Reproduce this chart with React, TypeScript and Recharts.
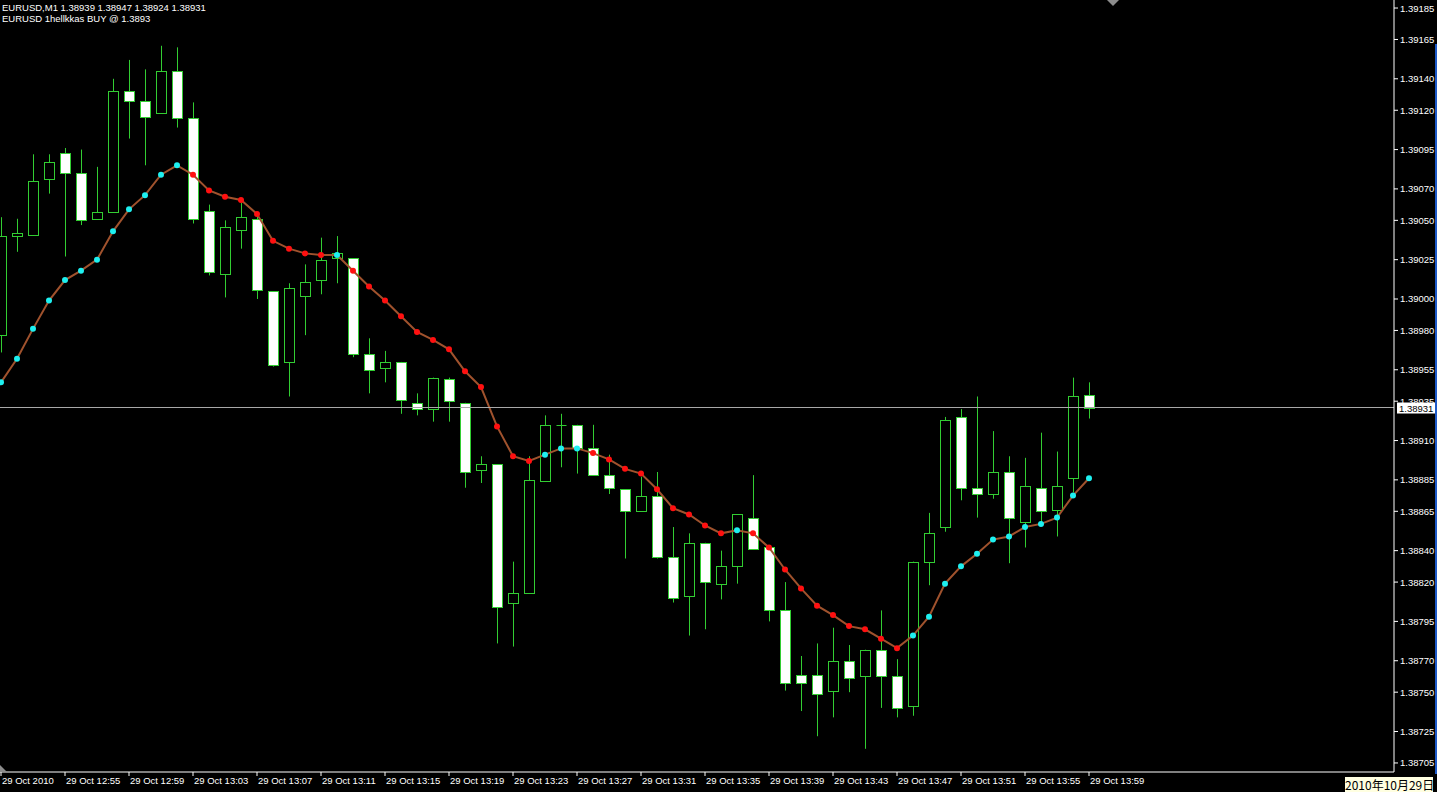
import React from "react";
import { ComposedChart, Bar, Line, XAxis, YAxis, ReferenceLine } from "recharts";

// EURUSD M1, 29 Oct 2010, 12:51 .. 13:59
const opens = [
  1.38977, 1.3904, 1.39041, 1.39076, 1.39093, 1.3908, 1.39051, 1.39055, 1.39132, 1.39126,
  1.39118, 1.39145, 1.39115, 1.39056, 1.39016, 1.39044, 1.39051, 1.39005, 1.3896, 1.39002,
  1.39012, 1.39026, 1.39026, 1.38965, 1.38956, 1.3896, 1.38934, 1.3893, 1.38949, 1.38934,
  1.38891, 1.38895, 1.38807, 1.38813, 1.38884, 1.3892, 1.3892, 1.38905, 1.38888, 1.38879,
  1.38865, 1.38875, 1.38836, 1.38811, 1.38845, 1.38819, 1.3883, 1.38861, 1.38842, 1.38802,
  1.38761, 1.38761, 1.38751, 1.3877, 1.3876, 1.38777, 1.3876, 1.38741, 1.38833, 1.38855,
  1.38925, 1.3888, 1.38876, 1.3889, 1.38858, 1.3888, 1.38866, 1.38886, 1.38939,
];
const highs = [
  1.39052, 1.39051, 1.39092, 1.39092, 1.39096, 1.39095, 1.39084, 1.3914, 1.39152, 1.39146,
  1.39161, 1.3916, 1.39125, 1.3906, 1.3905, 1.39061, 1.39055, 1.39005, 1.3901, 1.39022,
  1.39039, 1.3904, 1.39026, 1.38975, 1.38967, 1.3896, 1.3894, 1.3895, 1.3895, 1.38934,
  1.389, 1.38895, 1.38833, 1.389, 1.38926, 1.38927, 1.3892, 1.3892, 1.38901, 1.38879,
  1.38887, 1.3889, 1.38855, 1.38851, 1.38845, 1.3884, 1.38863, 1.38888, 1.38842, 1.3882,
  1.38773, 1.38781, 1.38791, 1.3878, 1.38777, 1.38802, 1.38771, 1.38833, 1.38864, 1.38925,
  1.3893, 1.38938, 1.38916, 1.389, 1.38899, 1.38915, 1.38903, 1.3895, 1.38947,
];
const lows = [
  1.38966, 1.3903, 1.39041, 1.39067, 1.39027, 1.39047, 1.39051, 1.39055, 1.39102, 1.39085,
  1.39118, 1.39109, 1.39048, 1.39015, 1.39001, 1.39032, 1.39, 1.38957, 1.38938, 1.38977,
  1.39003, 1.3901, 1.38963, 1.3894, 1.38947, 1.38927, 1.38926, 1.38922, 1.38922, 1.3888,
  1.38883, 1.38781, 1.38779, 1.38813, 1.38884, 1.38893, 1.38889, 1.38888, 1.38876, 1.38835,
  1.38865, 1.38835, 1.38807, 1.38786, 1.3879, 1.38809, 1.38819, 1.38841, 1.38795, 1.38751,
  1.38738, 1.38722, 1.38734, 1.3875, 1.38714, 1.3874, 1.38734, 1.38735, 1.38818, 1.38852,
  1.38872, 1.38861, 1.38873, 1.38832, 1.38842, 1.38858, 1.38849, 1.38877, 1.38924,
];
const closes = [
  1.3904, 1.39042, 1.39075, 1.39087, 1.3908, 1.3905, 1.39055, 1.39132, 1.39126, 1.39116,
  1.39145, 1.39115, 1.39051, 1.39017, 1.39046, 1.39052, 1.39006, 1.38958, 1.39007, 1.39011,
  1.39025, 1.39029, 1.38965, 1.38955, 1.3896, 1.38936, 1.3893, 1.3895, 1.38935, 1.3889,
  1.38895, 1.38804, 1.38813, 1.38885, 1.3892, 1.3892, 1.38905, 1.38888, 1.3888, 1.38865,
  1.38875, 1.38836, 1.3881, 1.38845, 1.3882, 1.3883, 1.38863, 1.38841, 1.38802, 1.38756,
  1.38756, 1.38749, 1.3877, 1.38759, 1.38777, 1.3876, 1.3874, 1.38833, 1.38851, 1.38923,
  1.3888, 1.38876, 1.3889, 1.38861, 1.38881, 1.38865, 1.38881, 1.38938, 1.38931,
];
// 1hellkkas indicator line
const indicator = [
  1.38947, 1.38962, 1.38981, 1.38999, 1.39012, 1.39018, 1.39025, 1.39043, 1.39057, 1.39066,
  1.39079, 1.39085, 1.39079, 1.39069, 1.39065, 1.39063, 1.39054, 1.39037, 1.39032, 1.39029,
  1.39028, 1.39028, 1.39018, 1.39008, 1.38999, 1.38989, 1.38979, 1.38974, 1.38968, 1.38954,
  1.38944, 1.38919, 1.389, 1.38897, 1.38901, 1.38905, 1.38905, 1.38902, 1.38898, 1.38892,
  1.38889, 1.38879, 1.38867, 1.38863, 1.38856, 1.38851, 1.38853, 1.38851, 1.38842, 1.38828,
  1.38816, 1.38805, 1.38799, 1.38792, 1.3879, 1.38784, 1.38778, 1.38786, 1.38798, 1.38819,
  1.3883, 1.38838, 1.38847, 1.38849, 1.38855, 1.38857, 1.38861, 1.38875, 1.38886,
];

const xTickIndex = [0, 4, 8, 12, 16, 20, 24, 28, 32, 36, 40, 44, 48, 52, 56, 60, 64, 68];
const xTickLabels = [
  "29 Oct 2010", "29 Oct 12:55", "29 Oct 12:59", "29 Oct 13:03", "29 Oct 13:07", "29 Oct 13:11",
  "29 Oct 13:15", "29 Oct 13:19", "29 Oct 13:23", "29 Oct 13:27", "29 Oct 13:31", "29 Oct 13:35",
  "29 Oct 13:39", "29 Oct 13:43", "29 Oct 13:47", "29 Oct 13:51", "29 Oct 13:55", "29 Oct 13:59",
];
const yTicks = [
  1.39185, 1.39165, 1.3914, 1.3912, 1.39095, 1.3907, 1.3905, 1.39025, 1.39, 1.3898, 1.38955,
  1.38935, 1.3891, 1.38885, 1.38865, 1.3884, 1.3882, 1.38795, 1.3877, 1.3875, 1.38725, 1.38705,
];
const lastPrice = 1.38931;

const GREEN = "#32CD32";
const FONT = "'Liberation Sans', Arial, sans-serif";

const data = opens.map((o, i) => ({
  i,
  open: o,
  high: highs[i],
  low: lows[i],
  close: closes[i],
  ma: indicator[i],
  up: i === 0 || indicator[i] >= indicator[i - 1],
}));

function Candle(props: any) {
  const { x, width, payload } = props;
  if (!payload) return null;
  const y = Math.min(props.y, props.y + props.height);
  const h = Math.abs(props.height);
  const { open, high, low, close } = payload;
  const k = h / (high - low);
  const py = (v: number) => y + (high - v) * k;
  const cx = Math.round(x + width / 2) + 0.5;
  const top = Math.round(py(Math.max(open, close))) + 0.5;
  const bot = Math.round(py(Math.min(open, close))) + 0.5;
  const bull = close >= open;
  return (
    <g>
      <line x1={cx} x2={cx} y1={y} y2={y + h} stroke={GREEN} strokeWidth={1} />
      {bot - top < 1 ? (
        <line x1={cx - 5} x2={cx + 5} y1={top} y2={top} stroke={GREEN} strokeWidth={1} />
      ) : (
        <rect x={cx - 5} y={top} width={10} height={bot - top} fill={bull ? "#000" : "#fff"} stroke={GREEN} strokeWidth={1} />
      )}
    </g>
  );
}

function XTick({ x, y, payload }: any) {
  const idx = xTickIndex.indexOf(payload.value);
  return (
    <text x={x + 1} y={y + 8} fill="#fff" fontSize={9.5} fontFamily={FONT} textAnchor="start">
      {xTickLabels[idx]}
    </text>
  );
}

function YTick({ x, y, payload }: any) {
  return (
    <text x={x} y={y + 3.5} fill="#fff" fontSize={9.5} fontFamily={FONT} textAnchor="start">
      {payload.value.toFixed(5)}
    </text>
  );
}

function PriceTag({ viewBox }: any) {
  if (!viewBox) return null;
  const px = viewBox.x + viewBox.width + 3;
  return (
    <g>
      <rect x={px} y={viewBox.y - 5} width={39} height={11} fill="#fff" />
      <text x={px + 2} y={viewBox.y + 4} fill="#000" fontSize={9.5} fontFamily={FONT}>
        {lastPrice.toFixed(5)}
      </text>
    </g>
  );
}

function MaDot(props: any) {
  const { cx, cy, payload, index } = props;
  return <circle key={"d" + index} cx={cx} cy={cy} r={3} fill={payload.up ? "#1EF0F0" : "#FF1010"} />;
}

export default function App() {
  return (
    <div style={{ position: "absolute", left: 0, top: 0, width: 1437, height: 792, background: "#000", overflow: "hidden" }}>
      <ComposedChart width={1437} height={792} data={data} margin={{ top: 0, right: 0, bottom: 0, left: 0 }}>
        <XAxis
          type="number"
          dataKey="i"
          domain={[-0.0625, 87.0625]}
          allowDataOverflow
          ticks={xTickIndex}
          interval={0}
          height={20}
          tickSize={4}
          tickMargin={0}
          axisLine={{ stroke: "#fff" }}
          tickLine={{ stroke: "#fff" }}
          tick={<XTick />}
        />
        <YAxis
          orientation="right"
          type="number"
          domain={[1.3869925, 1.391901]}
          allowDataOverflow
          ticks={yTicks}
          interval={0}
          width={43}
          tickSize={4}
          tickMargin={2}
          axisLine={{ stroke: "#fff" }}
          tickLine={{ stroke: "#fff" }}
          tick={<YTick />}
        />
        <Bar
          dataKey={(d: any) => [d.low, d.high]}
          barSize={10}
          shape={(p: any) => <Candle {...p} />}
          isAnimationActive={false}
        />
        <Line
          type="linear"
          dataKey="ma"
          stroke="#A0522D"
          strokeWidth={2}
          dot={(p: any) => <MaDot key={"m" + p.index} {...p} />}
          activeDot={false}
          isAnimationActive={false}
        />
        <ReferenceLine y={lastPrice} stroke="#A8A8A8" strokeWidth={1} label={<PriceTag />} />
      </ComposedChart>
      <svg width={1437} height={792} style={{ position: "absolute", left: 0, top: 0, pointerEvents: "none" }}>
        <text x={2} y={11} fill="#fff" fontSize={9.5} fontFamily={FONT}>
          {"EURUSD,M1  1.38939 1.38947 1.38924 1.38931"}
        </text>
        <text x={2} y={21.5} fill="#fff" fontSize={9.5} fontFamily={FONT}>
          EURUSD 1hellkkas BUY @ 1.3893
        </text>
        <polygon points="1107,0 1119,0 1113,6" fill="#8C8C8C" />
        <polygon points="0,765 0,772 7,772" fill="#8C8C8C" />
      </svg>
      <div style={{ position: "absolute", left: 1435, top: 44, width: 2, height: 730, background: "#1E5AC8" }} />
      <div
        style={{
          position: "absolute",
          left: 1345,
          top: 777,
          width: 88,
          height: 15,
          background: "#FFFFE1",
          color: "#000",
          fontSize: 12,
          lineHeight: "15px",
          fontFamily: "'Noto Sans CJK SC', sans-serif",
          textAlign: "center",
          whiteSpace: "nowrap",
        }}
      >
        2010年10月29日
      </div>
    </div>
  );
}
